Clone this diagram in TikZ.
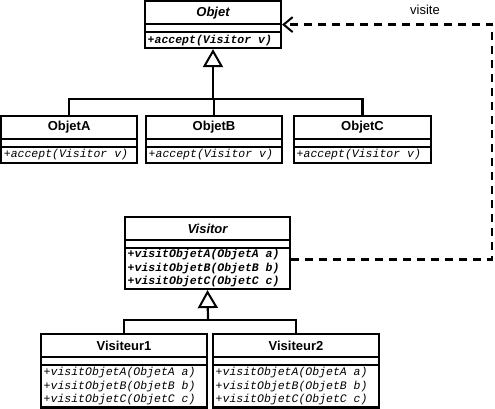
\documentclass[tikz,border=0pt]{standalone}
\usepackage{fontspec}
\setmainfont{Liberation Sans}
\newfontfamily\monofont{Liberation Mono}
\usetikzlibrary{arrows.meta,fit,calc}
\tikzset{
  classbox/.style={draw=black, line width=2.2pt, fill=white, inner sep=0pt},
  sepline/.style={draw=black, line width=2pt},
  titletext/.style={font=\fontsize{13}{15}\selectfont\bfseries, inner sep=0pt},
  opstext/.style={font=\fontsize{11.5}{13.5}\selectfont\monofont\itshape, align=left, inner sep=0pt, anchor=west},
  genline/.style={draw=black, line width=2.2pt},
  gentip/.style={genline, -{Triangle[open, length=18pt, width=20pt, line width=2pt]}},
  dep/.style={draw=black, line width=2.4pt, dash pattern=on 8pt off 6pt, -{Straight Barb[length=9pt, width=15pt, line width=2pt]}},
  lbl/.style={font=\fontsize{13}{15}\selectfont, inner sep=0pt}
}
\newcommand{\umlclass}[7]{%
  \node[classbox, fit={(#2,#3) (#4,#5)}] (#1) {};
  \draw[sepline] (#2,{#3+23}) -- (#4,{#3+23});
  \draw[sepline] (#2,{#3+31}) -- (#4,{#3+31});
  \node[titletext] (#1-title) at ({(#2+#4)/2},{#3+11.5}) {#6};
  \node[opstext] (#1-ops) at ({#2+2.5},{(#3+31+#5)/2}) {#7};
}
\begin{document}
\begin{tikzpicture}[x=1pt,y=-1pt]
\useasboundingbox (0,0) rectangle (495,409);
% classes
\umlclass{objet}{145}{1.2}{281}{48}{\itshape Objet}{\bfseries +accept(Visitor v)}
\umlclass{objetA}{1.2}{116}{137}{163}{ObjetA}{+accept(Visitor v)}
\umlclass{objetB}{146}{116}{282}{163}{ObjetB}{+accept(Visitor v)}
\umlclass{objetC}{294}{116}{431}{163}{ObjetC}{+accept(Visitor v)}
\umlclass{visitor}{125}{217}{290}{289}{\itshape Visitor}{\bfseries +visitObjetA(ObjetA a)\\\bfseries +visitObjetB(ObjetB b)\\\bfseries +visitObjetC(ObjetC c)}
\umlclass{visiteur1}{41}{334}{207}{407.5}{Visiteur1}{+visitObjetA(ObjetA a)\\+visitObjetB(ObjetB b)\\+visitObjetC(ObjetC c)}
\umlclass{visiteur2}{213}{334}{379}{407.5}{Visiteur2}{+visitObjetA(ObjetA a)\\+visitObjetB(ObjetB b)\\+visitObjetC(ObjetC c)}
% generalisation Objet
\coordinate (busO) at (213,99);
\draw[gentip] (busO) -- (objet.south);
\draw[genline] (objetA.north) |- (busO);
\draw[genline] (objetC.north) |- (busO);
\draw[genline] (objetB.north) -- (objetB.north |- busO);
% generalisation Visitor
\coordinate (busV) at (208,320);
\draw[gentip] (busV) -- (visitor.south);
\draw[genline] (visiteur1.north) |- (busV);
\draw[genline] (visiteur2.north) |- (busV);
% dependency
\coordinate (depcorner) at (492,140);
\draw[dep] ([yshift=-6.5pt]visitor.east) -| (depcorner) |- (objet.east);
\node[lbl] (visite) at (425,10) {visite};
\end{tikzpicture}
\end{document}
